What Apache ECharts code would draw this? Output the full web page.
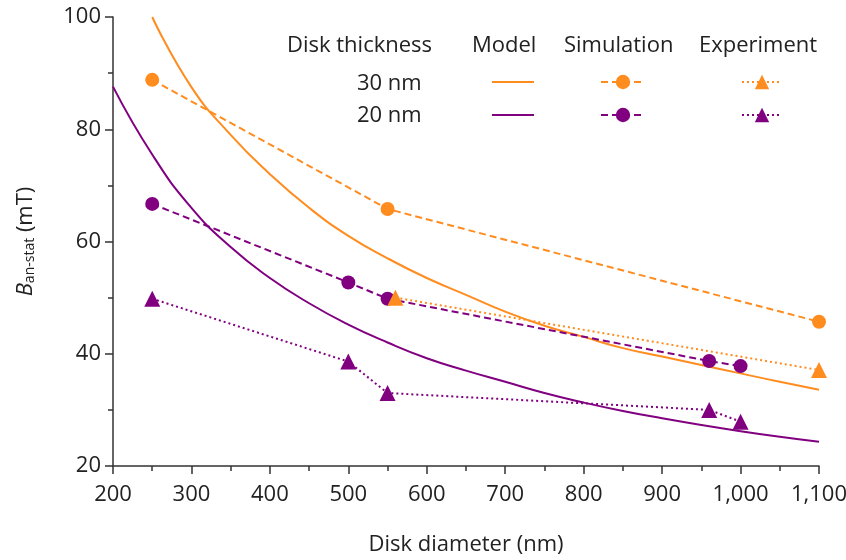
<!DOCTYPE html>
<html>
<head>
<meta charset="utf-8">
<script src="https://cdn.jsdelivr.net/npm/echarts@6/dist/echarts.min.js"></script>
<style>
  html, body { margin: 0; padding: 0; background: #fff; }
  #chart { width: 846px; height: 560px; }
</style>
</head>
<body>
<div id="chart"></div>
<script>
// model curves
var model30X = [250, 300, 350, 400, 450, 500, 550, 600, 650, 700, 750, 800, 850, 900, 950, 1000, 1050, 1100];
var model30Y = [100, 87.5, 79, 72, 66, 61, 57, 53.5, 50.5, 47.5, 45, 43, 41, 39.5, 38, 36.5, 35, 33.6];
var model20X = [200, 250, 300, 350, 400, 450, 500, 550, 600, 650, 700, 750, 800, 850, 900, 950, 1000, 1050, 1100];
var model20Y = [87.6, 75.5, 66, 59, 53.5, 49, 45.2, 42, 39.2, 37, 35, 33, 31.3, 29.8, 28.5, 27.3, 26.2, 25.2, 24.3];

// simulation points
var sim30X = [250, 550, 1100];
var sim30Y = [88.8, 65.8, 45.7];
var sim20X = [250, 500, 550, 960, 1000];
var sim20Y = [66.7, 52.7, 49.8, 38.7, 37.8];

// experiment points
var exp30X = [560, 1100];
var exp30Y = [50, 37.1];
var exp20X = [250, 500, 550, 960, 1000];
var exp20Y = [49.8, 38.6, 33, 30, 27.9];

var orange = '#FF8C1F';
var purple = '#800080';
var font = 'Open Sans';
var txt = '#222';

function pairs(xs, ys) {
    return xs.map(function (x, i) { return [x, ys[i]]; });
}

var chart = echarts.init(document.getElementById('chart'));

function lineSeries(name, xs, ys, color, type, symbol, size) {
    return {
        name: name,
        type: 'line',
        data: pairs(xs, ys),
        symbol: symbol,
        symbolSize: size,
        showSymbol: symbol !== 'none',
        smooth: symbol === 'none',
        lineStyle: { color: color, width: 2, type: type },
        itemStyle: { color: color },
        z: symbol === 'none' ? 2 : 3
    };
}

function legendItem(name, left, top, width, noSymbol) {
    var l = {
        data: [name],
        left: left,
        top: top,
        itemWidth: width,
        itemHeight: 18,
        padding: 0,
        formatter: function () { return ''; },
        selectedMode: false,
        textStyle: { fontSize: 1 }
    };
    if (noSymbol) l.itemStyle = { opacity: 0 };
    return l;
}

function label(text, x, y) {
    return {
        type: 'text', x: x, y: y,
        style: { text: text, font: '22px "Open Sans"', fill: txt, verticalAlign: 'middle' }
    };
}

var option = {
    animation: false,
    grid: { left: 113, right: 27, top: 17, bottom: 94, outerBoundsMode: 'none', containLabel: false },
    xAxis: {
        type: 'value',
        min: 200,
        max: 1100,
        interval: 100,
        name: 'Disk diameter (nm)',
        nameLocation: 'middle',
        nameGap: 68,
        nameTextStyle: { fontFamily: font, fontSize: 22, color: txt },
        axisLine: { lineStyle: { color: '#333', width: 1.5 } },
        axisTick: { length: 8, lineStyle: { color: '#333', width: 1.5 } },
        minorTick: { show: true, splitNumber: 2, length: 5, lineStyle: { color: '#333', width: 1.5 } },
        splitLine: { show: false },
        axisLabel: {
            fontFamily: font, fontSize: 22, color: txt, margin: 18,
            formatter: function (v) { return v.toLocaleString('en-US'); }
        }
    },
    yAxis: {
        type: 'value',
        min: 20,
        max: 100,
        interval: 20,
        name: '{i|B}{sub|an-stat}{n| (mT)}',
        nameLocation: 'middle',
        nameRotate: 90,
        nameGap: 76,
        nameTextStyle: {
            rich: {
                i: { fontFamily: font, fontSize: 22, fontStyle: 'italic', color: txt },
                sub: { fontFamily: font, fontSize: 14, color: txt, verticalAlign: 'bottom', padding: [9, 0, 0, 0] },
                n: { fontFamily: font, fontSize: 22, color: txt }
            }
        },
        axisLine: { show: true, lineStyle: { color: '#333', width: 1.5 } },
        axisTick: { show: true, length: 8, lineStyle: { color: '#333', width: 1.5 } },
        minorTick: { show: true, splitNumber: 2, length: 5, lineStyle: { color: '#333', width: 1.5 } },
        splitLine: { show: false },
        axisLabel: { fontFamily: font, fontSize: 22, color: txt, margin: 12 }
    },
    legend: [
        legendItem('Model 30 nm', 491, 73, 42, true),
        legendItem('Simulation 30 nm', 600, 73, 44, false),
        legendItem('Experiment 30 nm', 741, 73, 40, false),
        legendItem('Model 20 nm', 491, 106, 42, true),
        legendItem('Simulation 20 nm', 600, 106, 44, false),
        legendItem('Experiment 20 nm', 741, 106, 40, false)
    ],
    graphic: [
        label('Disk thickness', 287, 46),
        label('Model', 472, 46),
        label('Simulation', 564, 46),
        label('Experiment', 699, 46),
        label('30 nm', 357, 84),
        label('20 nm', 357, 116)
    ],
    series: [
        lineSeries('Model 30 nm', model30X, model30Y, orange, 'solid', 'none', 0),
        lineSeries('Model 20 nm', model20X, model20Y, purple, 'solid', 'none', 0),
        lineSeries('Simulation 30 nm', sim30X, sim30Y, orange, [7, 4], 'circle', 14),
        lineSeries('Simulation 20 nm', sim20X, sim20Y, purple, [7, 4], 'circle', 14),
        lineSeries('Experiment 30 nm', exp30X, exp30Y, orange, [2, 3], 'triangle', 16),
        lineSeries('Experiment 20 nm', exp20X, exp20Y, purple, [2, 3], 'triangle', 16)
    ]
};

chart.setOption(option);
</script>
</body>
</html>
